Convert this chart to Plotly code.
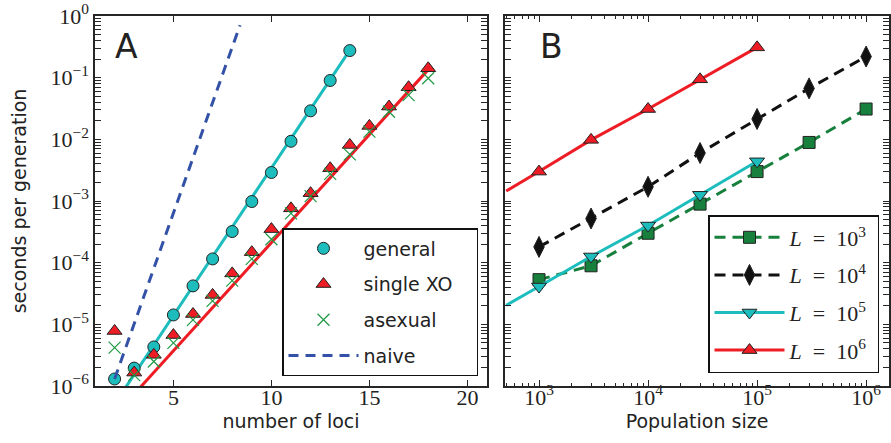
import plotly.graph_objects as go

# ---------------- Data: panel A ----------------
loci_general = [2, 3, 4, 5, 6, 7, 8, 9, 10, 11, 12, 13, 14]
sec_general = [1.3e-6, 1.95e-6, 4.3e-6, 1.42e-5, 4.2e-5, 1.15e-4, 3.2e-4,
               9.8e-4, 2.9e-3, 9.3e-3, 2.9e-2, 0.09, 0.275]
loci_xo = [2, 3, 4, 5, 6, 7, 8, 9, 10, 11, 12, 13, 14, 15, 16, 17, 18]
sec_xo = [7.8e-6, 1.65e-6, 3.2e-6, 6.7e-6, 1.47e-5, 3.0e-5, 6.7e-5, 1.48e-4,
          3.5e-4, 7.6e-4, 1.34e-3, 3.4e-3, 8.1e-3, 0.0165, 0.034, 0.07, 0.142]
loci_asex = [2, 3, 4, 5, 6, 7, 8, 9, 10, 11, 12, 13, 14, 15, 16, 17, 18]
sec_asex = [4.2e-6, 1.5e-6, 2.5e-6, 5.0e-6, 1.18e-5, 2.4e-5, 5.1e-5, 1.15e-4,
            2.4e-4, 6.3e-4, 1.2e-3, 2.75e-3, 5.7e-3, 0.0133, 0.028, 0.052, 0.098]
fit_general_x = [2, 14]
fit_general_y = [5.1e-7, 0.28]
fit_xo_x = [3, 18]
fit_xo_y = [7.4e-7, 0.135]
naive_x = [2, 8.4]
naive_y = [1.3e-6, 0.71]

# ---------------- Data: panel B ----------------
pop_size = [1e3, 3e3, 1e4, 3e4, 1e5, 3e5, 1e6]
pop_size_short = [1e3, 3e3, 1e4, 3e4, 1e5]
sec_L3 = [5.3e-5, 8.9e-5, 3.0e-4, 8.9e-4, 3.0e-3, 8.9e-3, 0.031]
sec_L4 = [1.8e-4, 5.2e-4, 1.7e-3, 6.0e-3, 0.0214, 0.067, 0.22]
sec_L5 = [4.1e-5, 1.26e-4, 4.0e-4, 1.26e-3, 4.4e-3]
sec_L6 = [3.0e-3, 9.8e-3, 0.031, 0.094, 0.31]
# fitted lines continue to the left edge of the panel
ext_pop_x = [500, 1e3]
ext_L5_y = [2.03e-5, 4.1e-5]
ext_L6_y = [1.45e-3, 3.0e-3]

# ---------------- Tick labels ----------------
y_tickvals = [1e-6, 1e-5, 1e-4, 1e-3, 1e-2, 1e-1, 1]
y_ticktext = ["10<sup>\u22126</sup>", "10<sup>\u22125</sup>", "10<sup>\u22124</sup>",
              "10<sup>\u22123</sup>", "10<sup>\u22122</sup>", "10<sup>\u22121</sup>",
              "10<sup>0</sup>"]
xa_tickvals = [5, 10, 15, 20]
xa_ticktext = ["5", "10", "15", "20"]
xb_tickvals = [1e3, 1e4, 1e5, 1e6]
xb_ticktext = ["10<sup>3</sup>", "10<sup>4</sup>", "10<sup>5</sup>", "10<sup>6</sup>"]

legend_a_names = ["general", "single XO", "asexual", "naive"]
legend_b_names = ["<i>L</i>&nbsp;&nbsp;=&nbsp;&nbsp;10<sup>%d</sup>&nbsp;" % k for k in (3, 4, 5, 6)]
PAD_A = "&nbsp;" * 3

CYAN = "#1DBDBD"
RED = "#EE1C24"
GREEN_X = "#1E9A45"
GREEN_SQ = "#16803C"
BLUE = "#3351A6"
BLACK = "#111111"
EDGE = "#222222"
AXC = "#262626"

SANS = "DejaVu Sans"
SERIF = "Liberation Serif"

fig = go.Figure()

# ----- Panel A -----
fig.add_trace(go.Scatter(x=fit_general_x, y=fit_general_y, mode="lines",
                         line=dict(color=CYAN, width=3), showlegend=False,
                         xaxis="x", yaxis="y"))
fig.add_trace(go.Scatter(x=fit_xo_x, y=fit_xo_y, mode="lines",
                         line=dict(color=RED, width=3), showlegend=False,
                         xaxis="x", yaxis="y"))
fig.add_trace(go.Scatter(x=loci_general, y=sec_general, mode="markers",
                         name=legend_a_names[0] + PAD_A,
                         marker=dict(symbol="circle", size=12, color=CYAN,
                                     line=dict(color=EDGE, width=1)),
                         legend="legend", legendgroup="g1", xaxis="x", yaxis="y"))
fig.add_trace(go.Scatter(x=loci_xo, y=sec_xo, mode="markers",
                         name=legend_a_names[1] + PAD_A,
                         marker=dict(symbol="triangle-up", size=13, color=RED,
                                     line=dict(color=EDGE, width=1)),
                         legend="legend", legendgroup="g2", xaxis="x", yaxis="y"))
fig.add_trace(go.Scatter(x=loci_asex, y=sec_asex, mode="markers",
                         name=legend_a_names[2] + PAD_A,
                         marker=dict(symbol="x-thin", size=12, color=GREEN_X,
                                     line=dict(color=GREEN_X, width=1.2)),
                         legend="legend", legendgroup="g3", xaxis="x", yaxis="y"))
fig.add_trace(go.Scatter(x=naive_x, y=naive_y, mode="lines",
                         name=legend_a_names[3] + PAD_A,
                         line=dict(color=BLUE, width=3, dash="10px,7px"),
                         legend="legend", legendgroup="g4", xaxis="x", yaxis="y"))

# ----- Panel B -----
fig.add_trace(go.Scatter(x=pop_size, y=sec_L3, mode="lines+markers",
                         name=legend_b_names[0],
                         line=dict(color=GREEN_SQ, width=3, dash="11px,7px"),
                         marker=dict(symbol="square", size=12, color=GREEN_SQ,
                                     line=dict(color=EDGE, width=1)),
                         legend="legend2", legendgroup="h1", xaxis="x2", yaxis="y2"))
fig.add_trace(go.Scatter(x=pop_size, y=sec_L4, mode="lines+markers",
                         name=legend_b_names[1],
                         line=dict(color=BLACK, width=3, dash="11px,7px"),
                         marker=dict(symbol="diamond-tall", size=15, color=BLACK,
                                     line=dict(color=EDGE, width=1)),
                         legend="legend2", legendgroup="h2", xaxis="x2", yaxis="y2"))
fig.add_trace(go.Scatter(x=ext_pop_x, y=ext_L5_y, mode="lines",
                         line=dict(color=CYAN, width=3), showlegend=False,
                         xaxis="x2", yaxis="y2"))
fig.add_trace(go.Scatter(x=pop_size_short, y=sec_L5, mode="lines+markers",
                         name=legend_b_names[2],
                         line=dict(color=CYAN, width=3),
                         marker=dict(symbol="triangle-down", size=13, color=CYAN,
                                     line=dict(color=EDGE, width=1)),
                         legend="legend2", legendgroup="h3", xaxis="x2", yaxis="y2"))
fig.add_trace(go.Scatter(x=ext_pop_x, y=ext_L6_y, mode="lines",
                         line=dict(color=RED, width=3), showlegend=False,
                         xaxis="x2", yaxis="y2"))
fig.add_trace(go.Scatter(x=pop_size_short, y=sec_L6, mode="lines+markers",
                         name=legend_b_names[3],
                         line=dict(color=RED, width=3),
                         marker=dict(symbol="triangle-up", size=13, color=RED,
                                     line=dict(color=EDGE, width=1)),
                         legend="legend2", legendgroup="h4", xaxis="x2", yaxis="y2"))

# empty traces that register the label-only x axes (they draw nothing)
fig.add_trace(go.Scatter(x=[], y=[], mode="markers", showlegend=False, hoverinfo="skip",
                         xaxis="x3", yaxis="y"))
fig.add_trace(go.Scatter(x=[], y=[], mode="markers", showlegend=False, hoverinfo="skip",
                         xaxis="x4", yaxis="y2"))

y_minor = [k * 10 ** e for e in range(-6, 0) for k in range(2, 10)]
xb_minor = [k * 10 ** e for e in range(2, 7) for k in range(2, 10)]

axis_common = dict(showline=True, linecolor=AXC, linewidth=1.5, mirror="allticks",
                   ticks="inside", ticklen=6, tickwidth=1.2, tickcolor=AXC,
                   showgrid=False, zeroline=False)
label_axis = dict(showline=False, ticks="", showgrid=False, zeroline=False,
                  anchor="free", position=0.012, autorange=False)

W, H = 891, 443
ML, MR, MT, MB = 95, 2, 16, 57
PW = W - ML - MR
a_right = (487 - ML) / PW
b_left = (505 - ML) / PW

fig.update_layout(
    width=W, height=H,
    margin=dict(l=ML, r=MR, t=MT, b=MB, autoexpand=False),
    paper_bgcolor="white", plot_bgcolor="white",
    showlegend=True,
    xaxis=dict(**axis_common, domain=[0, a_right], range=[1, 21],
               tickmode="array", tickvals=xa_tickvals, showticklabels=False,
               anchor="y"),
    # tick labels and title of panel A's x axis (drawn slightly closer to the frame)
    xaxis3=dict(**label_axis, overlaying="x", range=[1, 21],
                tickmode="array", tickvals=xa_tickvals, ticktext=xa_ticktext,
                tickfont=dict(family=SERIF, size=22, color="#222"),
                title=dict(text="number of loci", font=dict(family=SANS, size=19, color="#222"),
                           standoff=6)),
    yaxis=dict(**axis_common, type="log", range=[-6, 0], domain=[0, 1],
               tickmode="array", tickvals=y_tickvals, ticktext=y_ticktext,
               tickfont=dict(family=SERIF, size=22, color="#222"),
               minor=dict(tickmode="array", tickvals=y_minor, ticks="inside",
                          ticklen=3, tickcolor=AXC, tickwidth=1),
               title=dict(text="seconds per generation",
                          font=dict(family=SANS, size=19, color="#222"), standoff=19),
               anchor="x"),
    xaxis2=dict(**axis_common, type="log", domain=[b_left, 1], range=[2.688, 6.21],
                tickmode="array", tickvals=xb_tickvals, showticklabels=False,
                minor=dict(tickmode="array", tickvals=xb_minor, ticks="inside",
                           ticklen=3, tickcolor=AXC, tickwidth=1),
                anchor="y2"),
    xaxis4=dict(**label_axis, overlaying="x2", type="log", range=[2.688, 6.21],
                tickmode="array", tickvals=xb_tickvals, ticktext=xb_ticktext,
                tickfont=dict(family=SERIF, size=22, color="#222"),
                title=dict(text="Population size", font=dict(family=SANS, size=19, color="#222"),
                           standoff=6)),
    yaxis2=dict(**axis_common, type="log", range=[-6, 0], domain=[0, 1],
                tickmode="array", tickvals=y_tickvals, showticklabels=False,
                minor=dict(tickmode="array", tickvals=y_minor, ticks="inside",
                           ticklen=3, tickcolor=AXC, tickwidth=1),
                anchor="x2"),
    legend=dict(x=(282 - ML) / PW, y=1 - (228 - MT) / 370, xanchor="left", yanchor="top",
                bgcolor="white", bordercolor="#111", borderwidth=1.5,
                font=dict(family=SANS, size=19, color="#222"),
                traceorder="grouped", tracegroupgap=8, itemwidth=70),
    legend2=dict(x=(708 - ML) / PW, y=1 - (215 - MT) / 370, xanchor="left", yanchor="top",
                 bgcolor="white", bordercolor="#111", borderwidth=1.5,
                 font=dict(family=SERIF, size=22, color="#222"),
                 traceorder="grouped", tracegroupgap=6, itemwidth=70),
    annotations=[
        dict(text="A", xref="x domain", yref="y domain", x=0.045, y=0.977,
             xanchor="left", yanchor="top", showarrow=False,
             font=dict(family=SANS, size=33, color="#222")),
        dict(text="B", xref="x2 domain", yref="y2 domain", x=0.087, y=0.977,
             xanchor="left", yanchor="top", showarrow=False,
             font=dict(family=SANS, size=33, color="#222")),
    ],
)

fig.write_html("out.html", config={"displayModeBar": False},
               post_script="document.body.style.margin='0';")
